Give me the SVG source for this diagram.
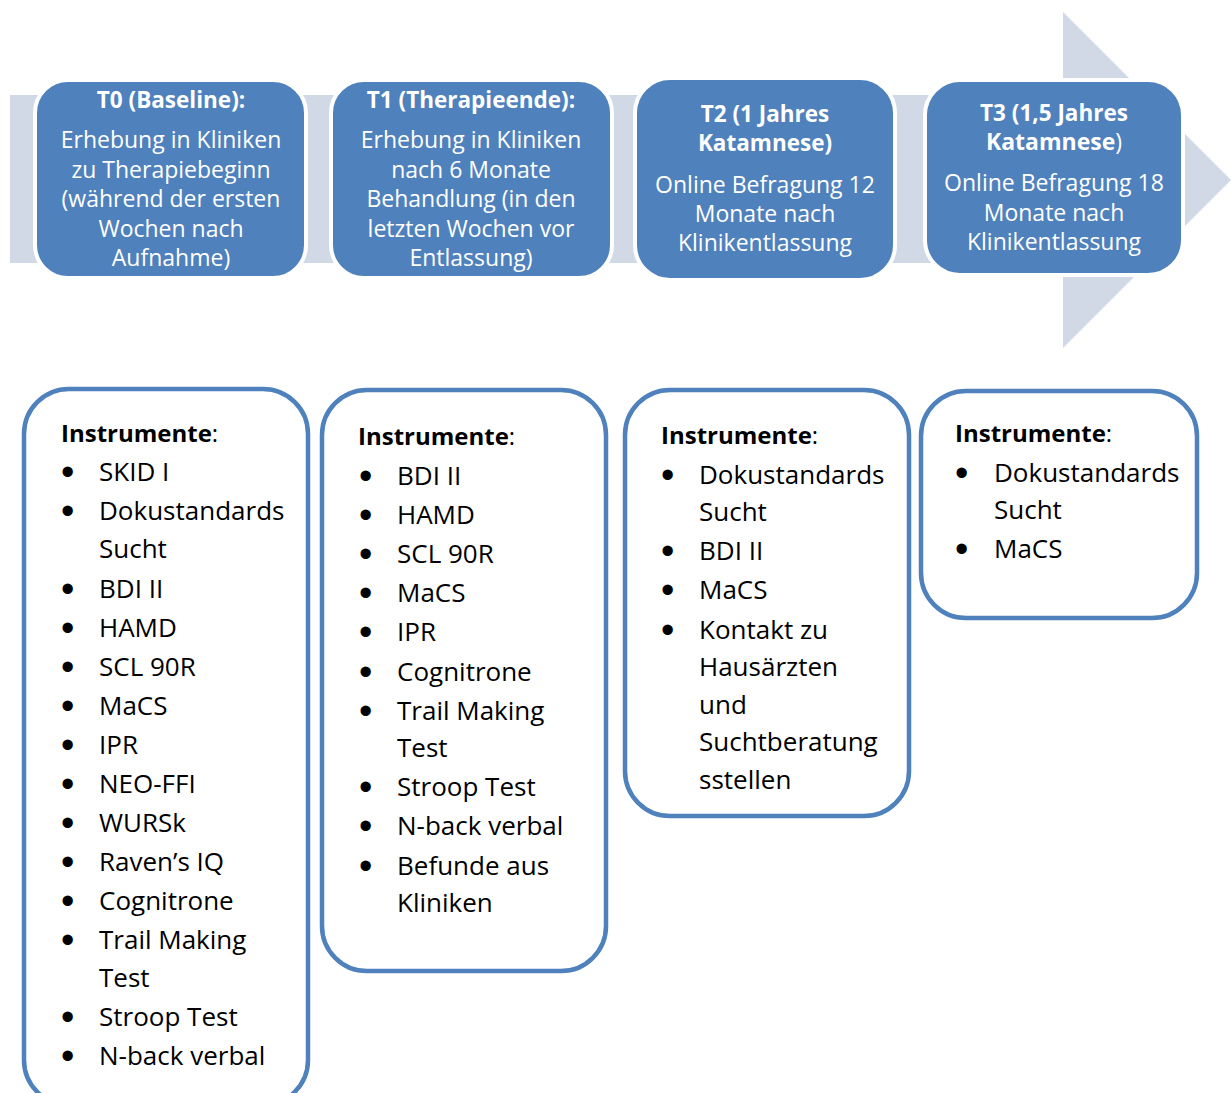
<svg xmlns="http://www.w3.org/2000/svg" width="1231" height="1093" viewBox="0 0 1231 1093">
<style>
.bg{fill:#ffffff}
.arrow{fill:#d1d9e7}
.phase{fill:#4f81bd;stroke:#ffffff;stroke-width:4}
.ph{font-family:"Open Sans","Noto Sans","DejaVu Sans",sans-serif;font-size:23px;fill:#ffffff;text-anchor:middle}
.pt{font-weight:bold;font-size:22.5px}
.box{fill:#ffffff;stroke:#4f81bd;stroke-width:4.5}
.it{font-family:"Open Sans","Noto Sans","DejaVu Sans",sans-serif;font-size:26px;fill:#000000}
.hd{font-family:"Open Sans","Noto Sans","DejaVu Sans",sans-serif;font-size:24px;fill:#000000}
.b{font-weight:bold}
.bu{font-family:"Liberation Sans",Arial,sans-serif;font-size:38px;fill:#000000}
</style>
<rect class="bg" x="0" y="0" width="1231" height="1093"/>
<g id="connectors">
<polygon class="arrow" points="10,95 1063,95 1063,12 1231,180 1063,348 1063,263 10,263"/>
</g>
<g id="T0">
<rect class="phase" x="35" y="80" width="271" height="198" rx="33"/>
<text class="ph pt" x="171" y="108">T0 (Baseline):</text>
<text class="ph" x="171" y="148">Erhebung in Kliniken</text>
<text class="ph" x="171" y="178">zu Therapiebeginn</text>
<text class="ph" x="171" y="207">(während der ersten</text>
<text class="ph" x="171" y="237">Wochen nach</text>
<text class="ph" x="171" y="266">Aufnahme)</text>
</g>
<g id="T1">
<rect class="phase" x="331" y="80" width="281" height="198" rx="33"/>
<text class="ph pt" x="471" y="108">T1 (Therapieende):</text>
<text class="ph" x="471" y="148">Erhebung in Kliniken</text>
<text class="ph" x="471" y="178">nach 6 Monate</text>
<text class="ph" x="471" y="207">Behandlung (in den</text>
<text class="ph" x="471" y="237">letzten Wochen vor</text>
<text class="ph" x="471" y="266">Entlassung)</text>
</g>
<g id="T2">
<rect class="phase" x="635" y="78" width="260" height="202" rx="35"/>
<text class="ph pt" x="765" y="122">T2 (1 Jahres</text>
<text class="ph pt" x="765" y="151">Katamnese)</text>
<text class="ph" x="765" y="193">Online Befragung 12</text>
<text class="ph" x="765" y="222">Monate nach</text>
<text class="ph" x="765" y="251">Klinikentlassung</text>
</g>
<g id="T3">
<rect class="phase" x="925" y="80" width="258" height="195" rx="35"/>
<text class="ph pt" x="1054" y="121">T3 (1,5 Jahres</text>
<text class="ph" x="1054" y="150"><tspan font-weight="bold">Katamnese</tspan>)</text>
<text class="ph" x="1054" y="191">Online Befragung 18</text>
<text class="ph" x="1054" y="221">Monate nach</text>
<text class="ph" x="1054" y="250">Klinikentlassung</text>
</g>
<g id="I0">
<rect class="box" x="24" y="389" width="284" height="716" rx="45"/>
<text class="hd" x="61" y="442"><tspan class="b">Instrumente</tspan>:</text>
<text class="bu" x="61" y="485">•</text><text class="it" x="99" y="481">SKID I</text>
<text class="bu" x="61" y="524">•</text><text class="it" x="99" y="520">Dokustandards</text>
<text class="it" x="99" y="558">Sucht</text>
<text class="bu" x="61" y="602">•</text><text class="it" x="99" y="598">BDI II</text>
<text class="bu" x="61" y="641">•</text><text class="it" x="99" y="637">HAMD</text>
<text class="bu" x="61" y="680">•</text><text class="it" x="99" y="676">SCL 90R</text>
<text class="bu" x="61" y="719">•</text><text class="it" x="99" y="715">MaCS</text>
<text class="bu" x="61" y="758">•</text><text class="it" x="99" y="754">IPR</text>
<text class="bu" x="61" y="797">•</text><text class="it" x="99" y="793">NEO-FFI</text>
<text class="bu" x="61" y="836">•</text><text class="it" x="99" y="832">WURSk</text>
<text class="bu" x="61" y="875">•</text><text class="it" x="99" y="871">Raven’s IQ</text>
<text class="bu" x="61" y="914">•</text><text class="it" x="99" y="910">Cognitrone</text>
<text class="bu" x="61" y="953">•</text><text class="it" x="99" y="949">Trail Making</text>
<text class="it" x="99" y="987">Test</text>
<text class="bu" x="61" y="1030">•</text><text class="it" x="99" y="1026">Stroop Test</text>
<text class="bu" x="61" y="1069">•</text><text class="it" x="99" y="1065">N-back verbal</text>
</g>
<g id="I1">
<rect class="box" x="322" y="390" width="284" height="581" rx="45"/>
<text class="hd" x="358" y="445"><tspan class="b">Instrumente</tspan>:</text>
<text class="bu" x="359" y="489">•</text><text class="it" x="397" y="485">BDI II</text>
<text class="bu" x="359" y="528">•</text><text class="it" x="397" y="524">HAMD</text>
<text class="bu" x="359" y="567">•</text><text class="it" x="397" y="563">SCL 90R</text>
<text class="bu" x="359" y="606">•</text><text class="it" x="397" y="602">MaCS</text>
<text class="bu" x="359" y="645">•</text><text class="it" x="397" y="641">IPR</text>
<text class="bu" x="359" y="685">•</text><text class="it" x="397" y="681">Cognitrone</text>
<text class="bu" x="359" y="724">•</text><text class="it" x="397" y="720">Trail Making</text>
<text class="it" x="397" y="757">Test</text>
<text class="bu" x="359" y="800">•</text><text class="it" x="397" y="796">Stroop Test</text>
<text class="bu" x="359" y="839">•</text><text class="it" x="397" y="835">N-back verbal</text>
<text class="bu" x="359" y="879">•</text><text class="it" x="397" y="875">Befunde aus</text>
<text class="it" x="397" y="912">Kliniken</text>
</g>
<g id="I2">
<rect class="box" x="625" y="390" width="284" height="426" rx="45"/>
<text class="hd" x="661" y="444"><tspan class="b">Instrumente</tspan>:</text>
<text class="bu" x="661" y="488">•</text><text class="it" x="699" y="484">Dokustandards</text>
<text class="it" x="699" y="521">Sucht</text>
<text class="bu" x="661" y="564">•</text><text class="it" x="699" y="560">BDI II</text>
<text class="bu" x="661" y="603">•</text><text class="it" x="699" y="599">MaCS</text>
<text class="bu" x="661" y="643">•</text><text class="it" x="699" y="639">Kontakt zu</text>
<text class="it" x="699" y="676">Hausärzten</text>
<text class="it" x="699" y="714">und</text>
<text class="it" x="699" y="751">Suchtberatung</text>
<text class="it" x="699" y="789">sstellen</text>
</g>
<g id="I3">
<rect class="box" x="921" y="391" width="276" height="227" rx="45"/>
<text class="hd" x="955" y="442"><tspan class="b">Instrumente</tspan>:</text>
<text class="bu" x="955" y="486">•</text><text class="it" x="994" y="482">Dokustandards</text>
<text class="it" x="994" y="519">Sucht</text>
<text class="bu" x="955" y="562">•</text><text class="it" x="994" y="558">MaCS</text>
</g>
</svg>
